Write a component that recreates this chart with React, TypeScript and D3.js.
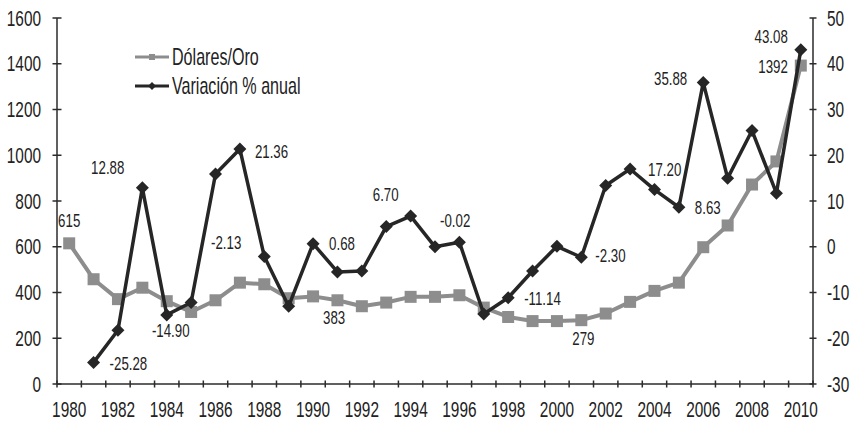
import React from 'react';
import * as d3 from 'd3';

const years = d3.range(1980, 2011);

// Dólares/Oro (left axis)
const goldPrice = [
  615, 458, 371, 421, 362, 315, 366, 443, 436, 375,
  383, 366, 340, 356, 381, 381, 388, 334, 293, 275,
  275, 279, 308, 359, 407, 443, 598, 693, 872, 973,
  1392,
];

// Variación % anual (right axis), no value for 1980
const annualChange = [
  null, -25.28, -18.26, 12.88, -14.9, -12.19, 15.9, 21.36, -2.13, -13.0,
  0.68, -5.5, -5.3, 4.4, 6.7, -0.02, 1.0, -14.7, -11.14, -5.3,
  0.1, -2.3, 13.4, 17.0, 12.5, 8.63, 35.88, 15.0, 25.4, 11.7,
  43.08,
];

const leftTicks = [0, 200, 400, 600, 800, 1000, 1200, 1400, 1600];
const rightTicks = [-30, -20, -10, 0, 10, 20, 30, 40, 50];
const xLabels = d3.range(1980, 2011, 2);

// data labels: which year / series, and the printed text
const goldLabels = [
  { year: 1980, text: '615' },
  { year: 1990, text: '383' },
  { year: 2001, text: '279' },
  { year: 2010, text: '1392' },
];
const changeLabels = [
  { year: 1981, text: '-25.28' },
  { year: 1983, text: '12.88' },
  { year: 1984, text: '-14.90' },
  { year: 1987, text: '21.36' },
  { year: 1988, text: '-2.13' },
  { year: 1990, text: '0.68' },
  { year: 1994, text: '6.70' },
  { year: 1995, text: '-0.02' },
  { year: 1998, text: '-11.14' },
  { year: 2001, text: '-2.30' },
  { year: 2003, text: '17.20' },
  { year: 2005, text: '8.63' },
  { year: 2006, text: '35.88' },
  { year: 2010, text: '43.08' },
];

// label placement relative to the point (dx, dy, anchor)
const labelOffset: Record<string, [number, number, string]> = {
  'g1980': [0, -23, 'middle'],
  'g1990': [21, 21, 'middle'],
  'g2001': [2, 18, 'middle'],
  'g2010': [-13, 1, 'end'],
  'c1981': [16, 1, 'start'],
  'c1983': [-18, -20, 'end'],
  'c1984': [4, 15, 'middle'],
  'c1987': [15, 2, 'start'],
  'c1988': [-23, -14, 'end'],
  'c1990': [16, 0, 'start'],
  'c1994': [-12, -22, 'end'],
  'c1995': [5, -27, 'start'],
  'c1998': [16, 1, 'start'],
  'c2001': [14, -2, 'start'],
  'c2003': [18, 0, 'start'],
  'c2005': [16, 0, 'start'],
  'c2006': [-16, -4, 'end'],
  'c2010': [-13, -13, 'end'],
};

const FONT = '"Liberation Sans", Arial, sans-serif';
const GRAY = '#8d8d8d';
const DARK = '#262626';
const AXIS = '#2b2b2b';
const SQUEEZE = 0.7; // the original uses a tall condensed face

// condensed text: horizontal squeeze around the anchor point
const T = ({ x, y, size, anchor = 'start', children }:
  { x: number; y: number; size: number; anchor?: string; children: React.ReactNode }) => (
  <text transform={`translate(${x},${y}) scale(${SQUEEZE},1)`} dy="0.35em" textAnchor={anchor}
    fontSize={size} fill="#222">{children}</text>
);

const App = () => {
  const width = 852;
  const height = 423;
  const left = 57;
  const right = 813;
  const top = 18;
  const bottom = 384;

  const x = d3.scaleBand<number>().domain(years).range([left, right]).padding(0);
  const cx = (yr: number) => (x(yr) as number) + x.bandwidth() / 2;
  const yL = d3.scaleLinear().domain([0, 1600]).range([bottom, top]);
  const yR = d3.scaleLinear().domain([-30, 50]).range([bottom, top]);

  const goldLine = d3.line<number>()
    .x((_, i) => cx(years[i]))
    .y(d => yL(d));

  const changePts = years
    .map((yr, i) => ({ yr, v: annualChange[i] }))
    .filter(d => d.v !== null) as { yr: number; v: number }[];
  const changeLine = d3.line<{ yr: number; v: number }>()
    .x(d => cx(d.yr))
    .y(d => yR(d.v));

  const boundaries = d3.range(0, years.length + 1).map(i => left + i * x.bandwidth());

  const diamond = (px: number, py: number, r: number) =>
    `M${px},${py - r}L${px + r},${py}L${px},${py + r}L${px - r},${py}Z`;

  return (
    <svg width={width} height={height} style={{ position: 'absolute', left: 0, top: 0, background: '#fff' }}
      fontFamily={FONT}>
      {/* axes */}
      <line x1={left} x2={left} y1={top} y2={bottom} stroke={AXIS} strokeWidth={1.5} />
      <line x1={right} x2={right} y1={top} y2={bottom} stroke={AXIS} strokeWidth={1.5} />
      <line x1={left} x2={right} y1={bottom} y2={bottom} stroke={AXIS} strokeWidth={1.5} />

      {leftTicks.map(t => (
        <g key={'l' + t}>
          <line x1={left - 4.5} x2={left + 4.5} y1={yL(t)} y2={yL(t)} stroke={AXIS} strokeWidth={1.5} />
          <T x={left - 16} y={yL(t)} size={22} anchor="end">{t}</T>
        </g>
      ))}
      {rightTicks.map(t => (
        <g key={'r' + t}>
          <line x1={right - 3.5} x2={right + 3.5} y1={yR(t)} y2={yR(t)} stroke={AXIS} strokeWidth={1.5} />
          <T x={right + 14} y={yR(t)} size={22}>{t}</T>
        </g>
      ))}
      {boundaries.map((bx, i) => (
        <line key={'b' + i} x1={bx} x2={bx} y1={bottom - 3.5} y2={bottom + 3.5} stroke={AXIS} strokeWidth={1.5} />
      ))}
      {xLabels.map(yr => (
        <T key={'x' + yr} x={cx(yr)} y={409} size={22} anchor="middle">{yr}</T>
      ))}

      {/* Dólares/Oro */}
      <path d={goldLine(goldPrice) as string} fill="none" stroke={GRAY} strokeWidth={4} strokeLinejoin="round" />
      {goldPrice.map((v, i) => (
        <rect key={'g' + i} x={cx(years[i]) - 6} y={yL(v) - 6} width={12} height={12} fill={GRAY} />
      ))}

      {/* Variación % anual */}
      <path d={changeLine(changePts) as string} fill="none" stroke={DARK} strokeWidth={3.5} strokeLinejoin="round" />
      {changePts.map(d => (
        <path key={'c' + d.yr} d={diamond(cx(d.yr), yR(d.v), 6.5)} fill={DARK} />
      ))}

      {/* data labels */}
      {goldLabels.map(l => {
        const v = goldPrice[years.indexOf(l.year)];
        const [dx, dy, anchor] = labelOffset['g' + l.year];
        return <T key={'gl' + l.year} x={cx(l.year) + dx} y={yL(v) + dy} size={19} anchor={anchor}>{l.text}</T>;
      })}
      {changeLabels.map(l => {
        const v = annualChange[years.indexOf(l.year)] as number;
        const [dx, dy, anchor] = labelOffset['c' + l.year];
        return <T key={'cl' + l.year} x={cx(l.year) + dx} y={yR(v) + dy} size={19} anchor={anchor}>{l.text}</T>;
      })}

      {/* legend */}
      <g>
        <line x1={135} x2={169} y1={57} y2={57} stroke={GRAY} strokeWidth={3} />
        <rect x={149} y={54} width={6} height={6} fill={GRAY} />
        <T x={172} y={57} size={23}>Dólares/Oro</T>
        <line x1={135} x2={169} y1={86} y2={86} stroke={DARK} strokeWidth={3} />
        <path d={diamond(152, 86, 4)} fill={DARK} />
        <T x={172} y={86} size={23}>Variación % anual</T>
      </g>
    </svg>
  );
};

export default App;
